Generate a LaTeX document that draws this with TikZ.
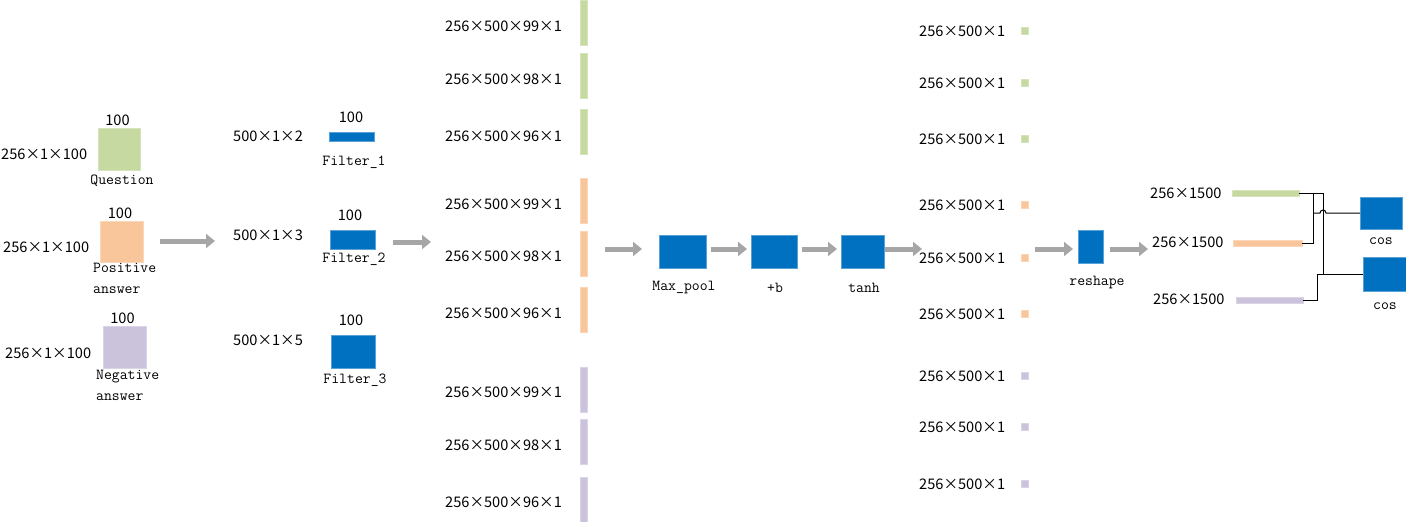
\documentclass[tikz,border=0pt]{standalone}
\usepackage{fontspec}
\newfontfamily\cjk{Noto Sans CJK SC}
\usetikzlibrary{arrows.meta}
\definecolor{qg}{HTML}{C5D9A0}
\definecolor{po}{HTML}{F9C59A}
\definecolor{np}{HTML}{CBC2DC}
\definecolor{bl}{HTML}{0070C0}
\definecolor{ag}{HTML}{A6A6A6}
\begin{document}
\begin{tikzpicture}[x=1pt,y=-1pt,
  blk/.style={fill=bl, draw=bl!65!white, line width=0.6pt, inner sep=0pt, outer sep=0pt},
  gbox/.style={fill=qg, draw=qg!70!white, line width=0.6pt, inner sep=0pt, outer sep=0pt},
  obox/.style={fill=po, draw=po!70!white, line width=0.6pt, inner sep=0pt, outer sep=0pt},
  pbox/.style={fill=np, draw=np!70!white, line width=0.6pt, inner sep=0pt, outer sep=0pt},
  num/.style={font=\cjk\fontsize{14.6}{16}\selectfont, inner sep=0pt},
  tt/.style={font=\ttfamily\fontsize{15.3}{21}\selectfont, inner sep=0pt},
  garr/.style={draw=ag, line width=5pt, -{Triangle[length=9pt,width=14pt]}},
  wire/.style={draw=black, line width=1pt}]
\useasboundingbox (0,0) rectangle (1406,522);

% ---- inputs
\node[gbox, minimum width=42pt, minimum height=42pt] (q) at (119,149.5) {};
\node[obox, minimum width=43pt, minimum height=41pt] (p) at (121.5,242) {};
\node[pbox, minimum width=43pt, minimum height=42pt] (n) at (124.5,347.5) {};
\node[num] (q100) at (117.5,120) {100};
\node[num] (p100) at (120,213) {100};
\node[num] (n100) at (122.5,318) {100};
\node[num, anchor=west] (qd) at (1,154) {256×1×100};
\node[num, anchor=west] (pd) at (3,247) {256×1×100};
\node[num, anchor=west] (nd) at (5,353) {256×1×100};
\node[tt] (ql) at (122,181) {Question};
\node[tt, align=left, anchor=north west] (pl) at (93,263) {Positive\\answer};
\node[tt, align=left, anchor=north west] (nl) at (96,370) {Negative\\answer};

\coordinate (a1s) at (160,241); \coordinate (a1e) at (215,241);
\draw[garr] (a1s) -- (a1e);

% ---- filters
\node[blk, minimum width=45pt, minimum height=9pt] (f1) at (352,136.5) {};
\node[blk, minimum width=45pt, minimum height=19pt] (f2) at (352.5,239.5) {};
\node[blk, minimum width=44pt, minimum height=33pt] (f3) at (353,351.5) {};
\node[num] (f1n) at (351,117) {100};
\node[num] (f2n) at (350,215) {100};
\node[num] (f3n) at (351,320) {100};
\node[num, anchor=west] (f1d) at (233,136) {500×1×2};
\node[num, anchor=west] (f2d) at (233,235) {500×1×3};
\node[num, anchor=west] (f3d) at (233,340) {500×1×5};
\node[tt] (f1l) at (354,162) {Filter\_1};
\node[tt] (f2l) at (354,259) {Filter\_2};
\node[tt] (f3l) at (355,380) {Filter\_3};

\coordinate (a2s) at (393,242); \coordinate (a2e) at (431,242);
\draw[garr] (a2s) -- (a2e);

% ---- feature maps
\foreach \y/\s [count=\i] in {22.5/gbox, 75.5/gbox, 132/gbox,
  200.5/obox, 253.5/obox, 309.5/obox,
  389.5/pbox, 441.5/pbox, 499.5/pbox}{
  \node[\s, minimum width=7pt, minimum height=45pt] (fm\i) at (584,\y) {};
}
\foreach \y/\t [count=\i] in {26/99, 79/98, 136/96, 204/99, 256/98, 313/96, 392/99, 445/98, 502/96}{
  \node[num, anchor=west] (fmd\i) at (445,\y) {256×500×\t×1};
}

% ---- pipeline
\node[blk, minimum width=47pt, minimum height=33pt] (mp) at (682.5,251.5) {};
\node[blk, minimum width=46pt, minimum height=33pt] (pb) at (774,251.5) {};
\node[blk, minimum width=43pt, minimum height=33pt] (th) at (862.5,251.5) {};
\node[tt] (mpl) at (684,288) {Max\_pool};
\node[tt] (pbl) at (775,288) {+b};
\node[tt] (thl) at (864,288) {tanh};

\coordinate (a3s) at (605,249); \coordinate (a3e) at (642,249);
\coordinate (a4s) at (711,249); \coordinate (a4e) at (747,249);
\coordinate (a5s) at (802,249); \coordinate (a5e) at (837,249);
\coordinate (a6s) at (885,249); \coordinate (a6e) at (922,249);
\draw[garr] (a3s) -- (a3e);
\draw[garr] (a4s) -- (a4e);
\draw[garr] (a5s) -- (a5e);
\draw[garr] (a6s) -- (a6e);

% ---- pooled
\foreach \y/\s [count=\i] in {31/gbox, 83/gbox, 139/gbox, 205/obox, 258/obox, 314/obox, 376/pbox, 427/pbox, 484/pbox}{
  \node[\s, minimum width=7pt, minimum height=7pt] (pq\i) at (1024.5,\y) {};
  \node[num, anchor=west] (pqd\i) at (919,\y) {256×500×1};
}

\coordinate (a7s) at (1035,249); \coordinate (a7e) at (1073,249);
\draw[garr] (a7s) -- (a7e);
\node[blk, minimum width=25pt, minimum height=33pt] (rs) at (1090.5,246.5) {};
\node[tt] (rsl) at (1097,283) {reshape};
\coordinate (a8s) at (1110,249); \coordinate (a8e) at (1148,249);
\draw[garr] (a8s) -- (a8e);

% ---- outputs
\node[num, anchor=west] (qod) at (1150,193) {256×1500};
\node[num, anchor=west] (pod) at (1152,242) {256×1500};
\node[num, anchor=west] (nod) at (1153,299) {256×1500};
\node[gbox, minimum width=67pt, minimum height=6pt] (qb) at (1265.5,193) {};
\node[obox, minimum width=69pt, minimum height=6pt] (pb2) at (1267.5,243) {};
\node[pbox, minimum width=67pt, minimum height=6pt] (nb) at (1269.5,300) {};

\node[blk, minimum width=42pt, minimum height=32pt] (c1) at (1381,213) {};
\node[blk, minimum width=43pt, minimum height=34pt] (c2) at (1384.5,274) {};
\node[tt] (c1l) at (1381,241) {cos};
\node[tt] (c2l) at (1385,306) {cos};

\draw[wire] (qb.east) -- (1323,193) -- (1323,274);
\draw[wire] (pb2.east) -- (1313,243) -- (1313,193);
\draw[wire] (1313,213) -- (1320,213) arc[start angle=180, end angle=0, radius=3pt] -- (c1.west);
\draw[wire] (nb.east) -- (1317,300) -- (1317,274) -- (c2.west);
\end{tikzpicture}
\end{document}
